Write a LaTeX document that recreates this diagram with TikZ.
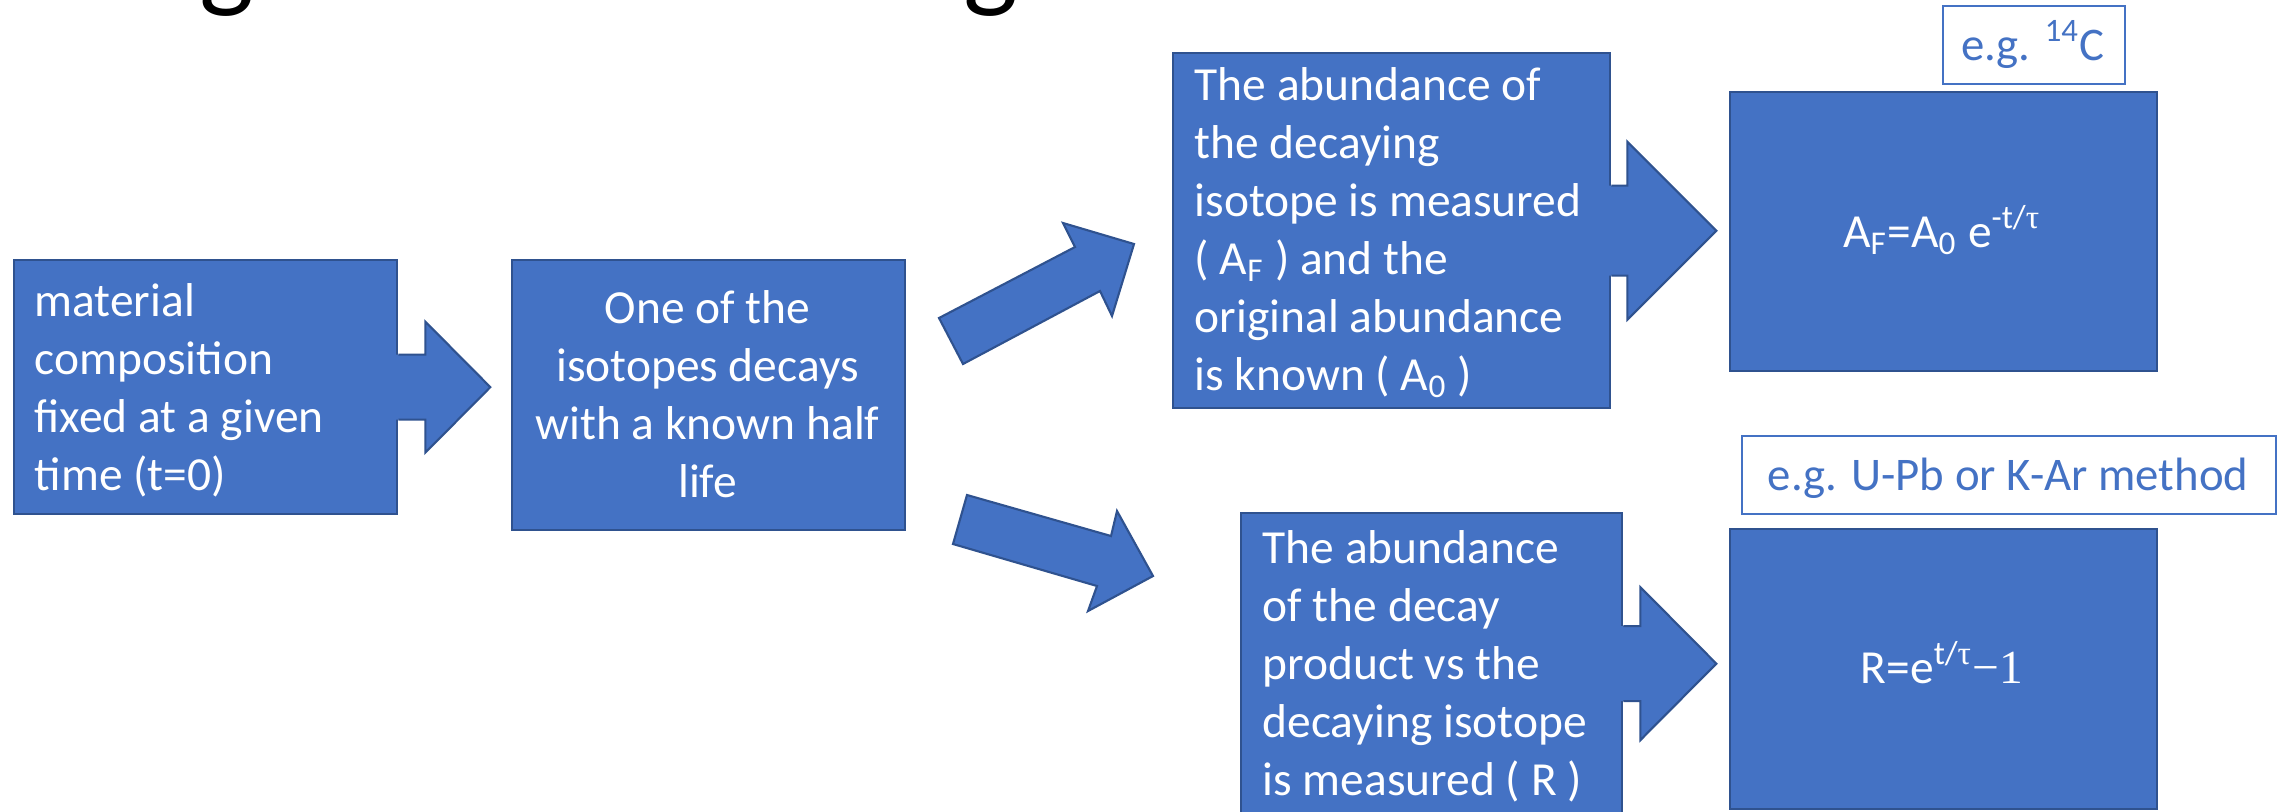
\documentclass[tikz,border=0pt]{standalone}
\usepackage{fontspec}
\setmainfont{Carlito}
\newfontfamily\seriffont{Liberation Serif}
\usetikzlibrary{calc}
\definecolor{fillblue}{HTML}{4472C4}
\definecolor{edgeblue}{HTML}{2F528F}
\tikzset{
  bbox/.style={draw=edgeblue, fill=fillblue, line width=0.6pt, rectangle, inner sep=0pt, anchor=north west},
  egbox/.style={draw=fillblue, fill=white, line width=0.6pt, rectangle, inner sep=0pt, anchor=north west},
  wtxt/.style={text=white, inner sep=0pt, font=\fontsize{13.5pt}{16.5pt}\selectfont},
  btxt/.style={text=fillblue, inner sep=0pt, font=\fontsize{13.3pt}{16pt}\selectfont},
  ttl/.style={text=black, inner sep=0pt, font=\fontsize{33pt}{40pt}\selectfont},
  afill/.style={fill=fillblue},
  aedge/.style={draw=edgeblue, line width=0.6pt}
}
\newcommand{\blockarrow}[5]{%
  \fill[afill] ($(#1)+(-3,-#2)$) -- ($(#1)+(#4,-#2)$) -- ($(#1)+(#4,-#3)$) -- ($(#1)+(#5,0)$) -- ($(#1)+(#4,#3)$) -- ($(#1)+(#4,#2)$) -- ($(#1)+(-3,#2)$) -- cycle;
  \draw[aedge] ($(#1)+(0,-#2)$) -- ($(#1)+(#4,-#2)$) -- ($(#1)+(#4,-#3)$) -- ($(#1)+(#5,0)$) -- ($(#1)+(#4,#3)$) -- ($(#1)+(#4,#2)$) -- ($(#1)+(0,#2)$);}
\begin{document}
\begin{tikzpicture}[x=0.01cm,y=-0.01cm]
\useasboundingbox (0,0) rectangle (2289,811);
\clip (0,0) rectangle (2289,811);
\fill[white] (0,0) rectangle (2289,811);
% clipped title descenders
\node[ttl, anchor=base west] (g1) at (199,-4) {g};
\node[ttl, anchor=base west] (g2) at (963,-4) {g};
% boxes
\node[bbox, minimum width=3.83cm, minimum height=2.54cm] (b1) at (13,259) {};
\node[bbox, minimum width=3.93cm, minimum height=2.70cm] (b2) at (511,259) {};
\node[bbox, minimum width=4.37cm, minimum height=3.55cm] (b3) at (1172,52) {};
\node[bbox, minimum width=4.27cm, minimum height=2.79cm] (b4) at (1729,91) {};
\node[bbox, minimum width=3.81cm, minimum height=3.01cm] (b5) at (1240,512) {};
\node[bbox, minimum width=4.27cm, minimum height=2.80cm] (b6) at (1729,528) {};
\node[egbox, minimum width=1.82cm, minimum height=0.78cm] (e1) at (1942,5) {};
\node[egbox, minimum width=5.34cm, minimum height=0.78cm] (e2) at (1741,435) {};
% block arrows
\blockarrow{b1.east}{32.5}{65.5}{27}{92}
\blockarrow{b3.east}{45}{89}{16}{105}
\blockarrow{b5.east}{37.5}{76.5}{17}{93}
\filldraw[afill, aedge, line join=miter] (939,318) -- (1075,247) -- (1063,223) -- (1134,244) -- (1112,316) -- (1100,291) -- (963,364) -- cycle;
\filldraw[afill, aedge, line join=miter] (967,495) -- (1111,536) -- (1117,511) -- (1153,576) -- (1088,611) -- (1097,586) -- (953,544) -- cycle;
% texts
\node[wtxt, anchor=base west] (t1) at (34,316) {\parbox[t]{4cm}{\raggedright material\\composition\\fixed at a given\\time (t=0)}};
\node[wtxt, anchor=base] (t2) at (707.5,323) {\parbox[t]{4cm}{\centering One of the\\isotopes decays\\with a known half\\life}};
\node[wtxt, anchor=base west] (t3) at (1194,100) {\parbox[t]{4.2cm}{\raggedright The abundance of\\the decaying\\isotope is measured\\( A\textsubscript{F} ) and the\\original abundance\\is known ( A\textsubscript{0} )}};
\node[wtxt, anchor=base west] (t5) at (1262,563) {\parbox[t]{4cm}{\raggedright The abundance\\of the decay\\product vs the\\decaying isotope\\is measured ( R )}};
\node[wtxt, anchor=base] (t4) at (1942,247) {A\textsubscript{F}=A\textsubscript{0} e\textsuperscript{-t/{\seriffont τ}}};
\node[wtxt, anchor=base] (t6) at (1942,683) {R=e\textsuperscript{t/{\seriffont τ}}{\seriffont −1}};
\node[btxt, anchor=base] (te1) at (2033,60) {e.g. \textsuperscript{14}C};
\node[btxt, anchor=base] (te2) at (2008,490) {e.g. U-Pb or K-Ar method};
\end{tikzpicture}
\end{document}
